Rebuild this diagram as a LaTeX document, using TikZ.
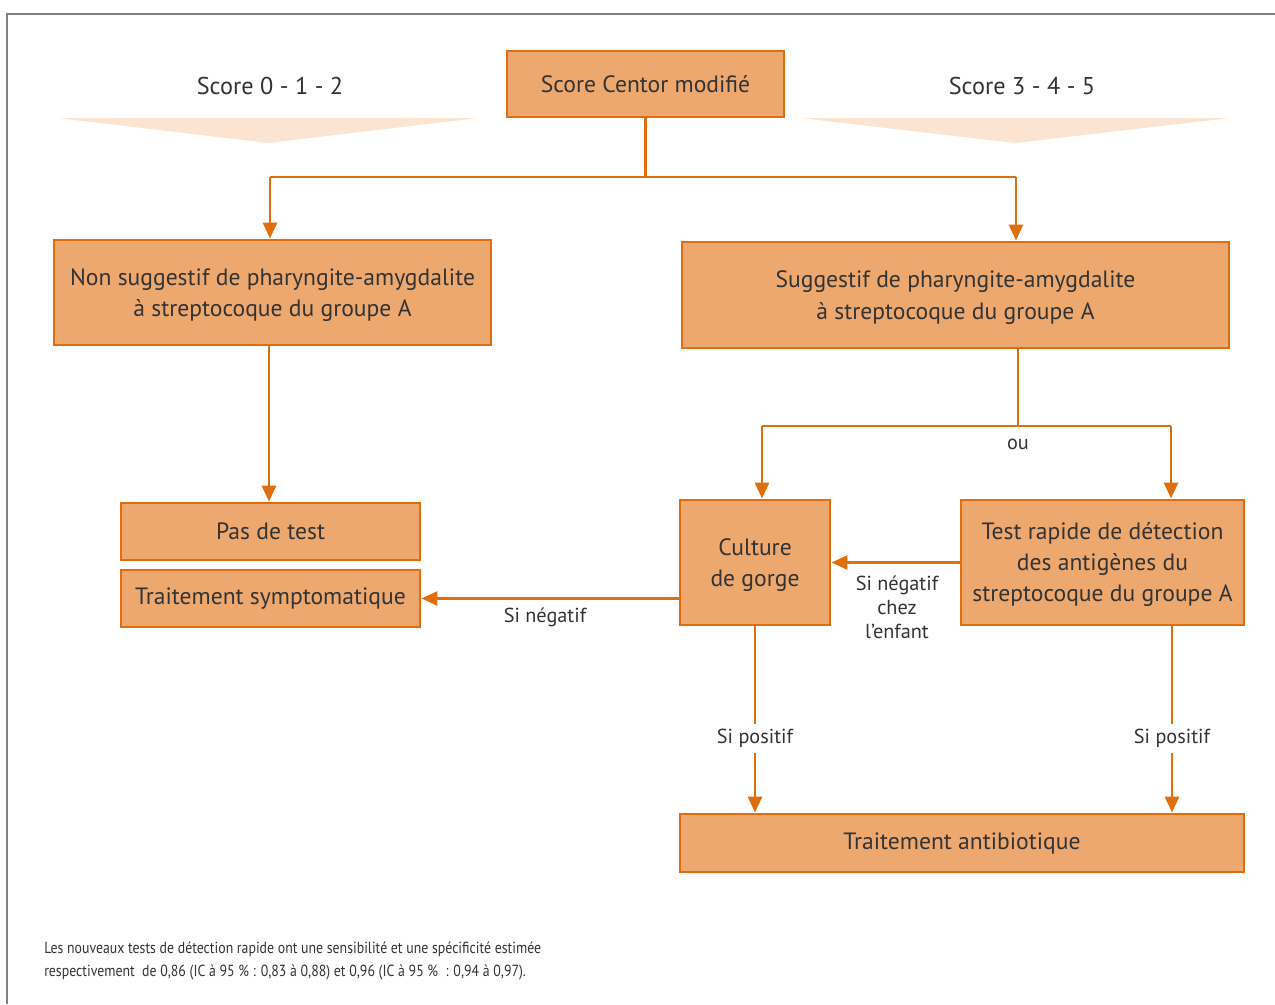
\documentclass[tikz,border=0pt]{standalone}
\usepackage{fontspec}
\setmainfont{PT Sans}
\newfontfamily\narrowfont[FakeStretch=0.86]{PT Sans}
\usetikzlibrary{arrows.meta}
\definecolor{boxfill}{HTML}{EDA86F}
\definecolor{boxline}{HTML}{E06D0E}
\definecolor{trifill}{HTML}{FBE4D2}
\definecolor{txt}{HTML}{333333}
\definecolor{framegray}{HTML}{808080}
\tikzset{
  boxnode/.style={draw=boxline, fill=boxfill, line width=2.2pt, text=txt,
    align=center, inner sep=2pt, font=\fontsize{17.7}{23.5}\selectfont},
  boxtext/.style={text=txt, align=center, inner sep=0pt, font=\fontsize{17.7}{23.5}\selectfont},
  conn/.style={draw=boxline, line width=2.2pt},
  arr/.style={conn, -{Triangle[length=12pt,width=10.5pt]}},
  lbl/.style={text=txt, align=center, font=\fontsize{15.2}{18}\selectfont, inner sep=1pt},
  headnode/.style={text=txt, font=\fontsize{18.2}{22}\selectfont}
}
\begin{document}
\begin{tikzpicture}[x=0.75pt,y=-0.75pt]
\useasboundingbox (0,0) rectangle (1275,1004);
% frame
\draw[framegray, line width=1.5pt] (7,1004) -- (7,14) -- (1275,14);
% header triangles
\fill[trifill] (58,118) -- (478,118) -- (268,143) -- cycle;
\fill[trifill] (800,118) -- (1230,118) -- (1015,143) -- cycle;
\node[headnode] (s012) at (270,86) {Score 0 - 1 - 2};
\node[headnode] (s345) at (1022,86) {Score 3 - 4 - 5};
% boxes
\node[boxnode, minimum width=277*0.75pt, minimum height=66*0.75pt] (centor) at (645.5,84) {Score Centor modifié};
\node[boxnode, minimum width=437*0.75pt, minimum height=105*0.75pt] (nonsug) at (272.5,292.5) {};
\node[boxtext] (nonsugt) at (272.5,295) {Non suggestif de pharyngite-amygdalite\\à streptocoque du groupe A};
\node[boxnode, minimum width=547*0.75pt, minimum height=106*0.75pt] (sug) at (955.5,295) {};
\node[boxtext] (sugt) at (955.5,297.5) {Suggestif de pharyngite-amygdalite\\à streptocoque du groupe A};
\node[boxnode, minimum width=299*0.75pt, minimum height=57*0.75pt] (pas) at (270.5,531.5) {Pas de test};
\node[boxnode, minimum width=299*0.75pt, minimum height=57*0.75pt] (symp) at (270.5,598.5) {Traitement symptomatique};
\node[boxnode, minimum width=150*0.75pt, minimum height=125*0.75pt] (culture) at (755,562.5) {};
\node[boxtext] (culturet) at (755,565) {Culture\\de gorge};
\node[boxnode, minimum width=283*0.75pt, minimum height=125*0.75pt] (test) at (1102.5,562.5) {};
\node[boxtext] (testt) at (1102.5,564.5) {Test rapide de détection\\des antigènes du\\streptocoque du groupe A};
\node[boxnode, minimum width=564*0.75pt, minimum height=58*0.75pt] (antib) at (962,843) {Traitement antibiotique};
% connectors from Centor
\coordinate (jm) at (645.5,177);
\coordinate (jl) at (270,177);
\coordinate (jr) at (1016,177);
\draw[conn] (centor.south) -- (jm);
\draw[conn] (jl) -- (jr);
\draw[arr] (jl) -- (jl |- nonsug.north);
\draw[arr] (jr) -- (jr |- sug.north);
% non suggestif -> pas de test
\coordinate (jn) at (269,0);
\draw[arr] (jn |- nonsug.south) -- (jn |- pas.north);
% suggestif -> split
\coordinate (js) at (1018,426);
\coordinate (ol) at (762,426);
\coordinate (or) at (1171,426);
\draw[conn] (js |- sug.south) -- (js);
\draw[conn] (ol) -- (or);
\node[lbl] (ou) at (1018,444) {ou};
\draw[arr] (ol) -- (ol |- culture.north);
\draw[arr] (or) -- (or |- test.north);
% test -> culture
\draw[arr] (test.west) -- (culture.east);
\node[lbl] (negenf) at (897,607) {Si négatif\\chez\\l’enfant};
% culture -> symptomatique
\draw[arr] (culture.west |- symp.east) -- (symp.east);
\node[lbl] (neg) at (545,617) {Si négatif};
% positives
\coordinate (tp) at (1172,0);
\draw[arr] (culture.south) -- node[lbl, fill=white, pos=0.6, inner sep=4pt] (pos1) {Si positif} (culture.south |- antib.north);
\draw[arr] (tp |- test.south) -- node[lbl, fill=white, pos=0.6, inner sep=4pt] (pos2) {Si positif} (tp |- antib.north);
% footnote
\node[anchor=north west, align=left, text=txt, inner sep=0pt, font=\narrowfont\fontsize{12.05}{17.2}\selectfont] (foot) at (44,942)
  {Les nouveaux tests de détection rapide ont une sensibilité et une spécificité estimée\\respectivement\ \ de 0,86 (IC à 95 \% : 0,83 à 0,88) et 0,96 (IC à 95 \%\ \ : 0,94 à 0,97).};
\end{tikzpicture}
\end{document}
